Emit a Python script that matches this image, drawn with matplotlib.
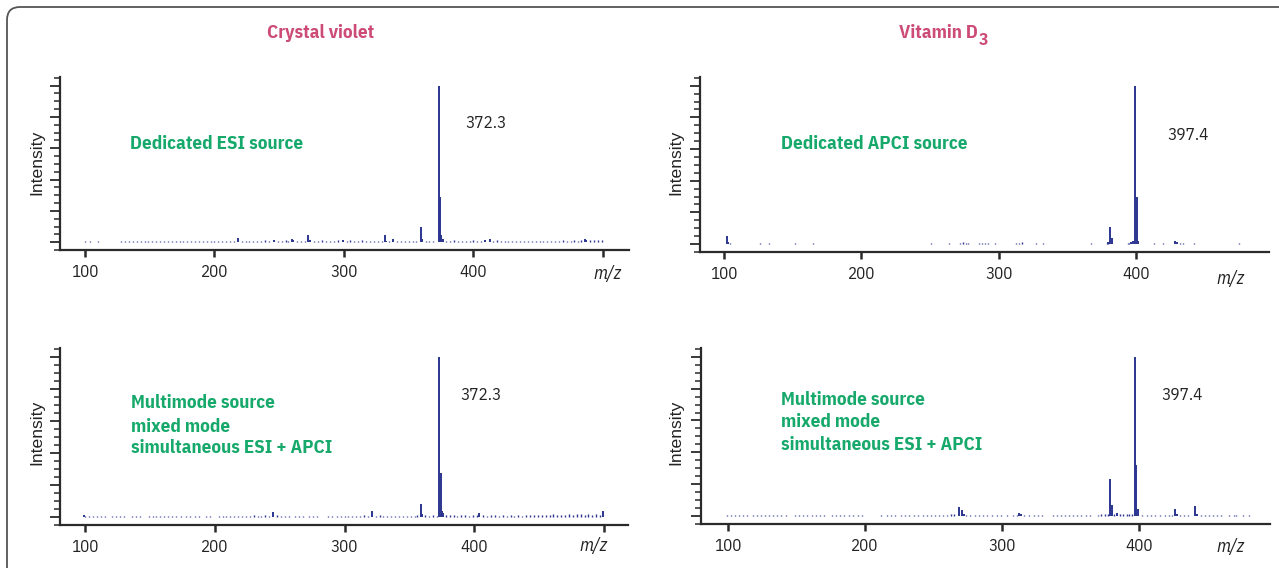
import matplotlib
matplotlib.use("Agg")
import matplotlib.pyplot as plt
from matplotlib.ticker import MultipleLocator
from matplotlib.patches import FancyBboxPatch
from matplotlib.transforms import IdentityTransform

# ---------------- data ----------------
titles = ["Crystal violet", "Vitamin D"]
title_sub = "3"
source_labels = [["Dedicated ESI source"], ["Dedicated APCI source"],
                 ["Multimode source", "mixed mode", "simultaneous ESI + APCI"],
                 ["Multimode source", "mixed mode", "simultaneous ESI + APCI"]]
peak_labels = ["372.3", "397.4", "372.3", "397.4"]
x_ticks_left = [100, 200, 300, 400, 500]
x_ticklabels_left = ["100", "200", "300", "400", ""]
x_ticks_right = [100, 200, 300, 400]
x_ticklabels_right = ["100", "200", "300", "400"]

# (m/z, relative intensity %)
tl_peaks = [(218, 2.8), (246, 1.5), (260, 2.0), (261, 1.2), (272.5, 4.7), (273.5, 1.5),
            (299, 1.3), (331.7, 4.3), (332.7, 1.0), (338, 1.8), (359.3, 9.5), (360.3, 2.2),
            (373.2, 100), (374.2, 29), (375.3, 4.5), (376.3, 2.0), (409, 1.4), (412.7, 2.0),
            (486, 2.0), (487, 1.2)]
tl_noise = [(100, .6), (102, .4), (104, .5), (107, .4), (110, .5), (113, .4), (119, .4), (121, .3),
            (128, .5), (131, .6), (134, .5), (137, .7), (140, .5), (143, .6), (146, .8), (149, .5),
            (152, .7), (155, .6), (158, .5), (161, .8), (164, .6), (167, .5), (170, .7), (173, .9),
            (176, .6), (179, .5), (182, .8), (185, .6), (188, .7), (191, .9), (194, .6), (197, .8),
            (200, .7), (203, .9), (206, .6), (209, .8), (212, 1.0), (215, .7), (221, .9), (224, .8),
            (227, 1.0), (230, .7), (233, .9), (236, .8), (239, 1.1), (242, .9), (249, 1.0), (252, .8),
            (255, 1.1), (257, .9), (264, .8), (267, 1.0), (270, .9), (277, 1.0), (280, .8), (283, 1.1),
            (286, .9), (289, 1.0), (292, .8), (295, 1.2), (302, .9), (305, 1.3), (308, 1.0), (311, .8),
            (314, 1.1), (317, .9), (320, .8), (323, 1.0), (326, .7), (329, .9), (335, .8), (341, .7),
            (344, .9), (347, .8), (350, 1.0), (353, .7), (356, .9), (363, .8), (366, 1.0), (369, .9),
            (379, 1.0), (382, .8), (385, 1.1), (388, .9), (391, .8), (394, 1.0), (397, .9), (400, 1.1),
            (403, .8), (406, 1.0), (415, .9), (418, 1.1), (421, .8), (424, .9), (427, 1.0), (430, .7),
            (433, .9), (436, .8), (439, 1.0), (442, .7), (445, .9), (448, .8), (451, 1.0), (454, .8),
            (457, .9), (460, 1.0), (463, .8), (466, .9), (469, 1.1), (472, .9), (475, 1.0), (478, 1.2),
            (481, 1.0), (483, 1.3), (490, 1.1), (493, 1.3), (496, 1.2), (499, 1.5)]

tr_peaks = [(102.0, 4.8), (103.0, 1.0), (379.6, 1.0), (381.1, 11.0), (382.2, 3.8),
            (396.4, 1.5), (397.8, 2.0), (399.3, 100), (400.7, 30), (401.8, 1.8),
            (428.4, 2.1), (429.9, 1.0)]
tr_noise = [(104, .4), (118, .3), (123, .3), (126, .4), (129, .3), (133, .4), (136, .3), (152, .4),
            (154, .3), (163, .3), (165, .4), (176, .3), (203, .3), (234.5, .3), (251, .4), (255, .3),
            (259, .3), (264, .4), (272, .5), (274, 1.0), (276, .7), (278, .5), (286, .4), (288, .5),
            (290, .8), (292, .4), (294, .3), (297, .4), (300, .3), (303, .3), (310, .3), (313, .5),
            (315, .4), (317, 1.0), (327, .4), (329, .3), (332, .5), (367, .4), (379, .4), (380, .6),
            (392, .3), (394, .5), (395, .8), (411, .3), (413, .4), (418, .3), (420, .5), (426, .3),
            (432, .4), (434, .5), (439, .3), (442, .4), (446, .3), (449, .3), (475, .4)]

bl_peaks = [(99, 1.5), (245, 3.0), (321, 3.5), (358.9, 8.2), (359.9, 2.0), (373.0, 100),
            (374.0, 27.7), (375.0, 3.5), (376.0, 2.5), (404, 2.8), (499, 3.5)]
bl_noise = [(100, .8), (103, .5), (106, .6), (109, .5), (112, .6), (115, .5), (121, .5), (124, .6),
            (127, .5), (130, .6), (136, .5), (139, .6), (142, .5), (149, .6), (152, .8), (155, .6),
            (158, .9), (161, .7), (164, .8), (167, .6), (170, .7), (174, .5), (178, .6), (181, .5),
            (185, .6), (188, .5), (193, .7), (196, .6), (203, .6), (206, .7), (209, .6), (212, .8),
            (215, .7), (218, .6), (221, .8), (224, .9), (227, .7), (230, 1.0), (233, .8), (236, .9),
            (239, 1.0), (242, .8), (248, 1.0), (251, .9), (254, .8), (257, .7), (262, .6), (265, .7),
            (268, .6), (273, .8), (276, .7), (279, .6), (287, .5), (290, .6), (294, .7), (297, .8),
            (300, .7), (303, .6), (306, .7), (309, .8), (312, .7), (315, 1.0), (318, .9), (324, .9),
            (327, 1.0), (330, .8), (333, .9), (336, .7), (339, .8), (342, .7), (345, .8), (348, .6),
            (351, .9), (354, .8), (356, 1.0), (362, 1.0), (365, .9), (368, 1.0), (371, .9), (378, 1.0),
            (381, 1.2), (384, 1.1), (387, .9), (390, 1.0), (393, 1.2), (396, .8), (399, 1.0), (402, 1.2),
            (407, 1.1), (410, .8), (413, 1.0), (416, 1.2), (419, .9), (422, 1.0), (425, .8), (428, 1.1),
            (431, .7), (434, 1.0), (437, .8), (440, 1.1), (443, 1.3), (446, 1.0), (449, 1.2), (452, 1.0),
            (455, 1.4), (458, 1.2), (461, 1.6), (464, 1.3), (467, 1.5), (470, 1.2), (473, 1.7), (476, 1.4),
            (479, 1.6), (482, 1.8), (485, 1.5), (488, 1.7), (491, 1.4), (494, 1.6), (497, 1.3)]

br_peaks = [(268.4, 5.4), (270.8, 3.5), (272, 1.2), (312.4, 2.0), (314, 1.0), (378.8, 23.5),
            (380.0, 7.0), (384, 2.0), (396.8, 100), (397.9, 32), (399.2, 4.2), (426.3, 4.6),
            (427.5, 1.0), (441, 6.2), (442.2, 1.2)]
br_noise = [(99, .5), (102, .4), (105, .6), (108, .4), (111, .5), (114, .4), (118, .5), (121, .4),
            (124, .6), (127, .5), (130, .7), (133, .4), (136, .6), (139, .5), (142, .4), (149, .4),
            (152, .6), (155, .5), (158, .8), (161, .6), (164, .5), (167, .7), (170, .4), (176, .5),
            (179, .6), (182, .4), (185, .5), (188, .4), (191, .6), (195, .4), (198, .5), (202, .3),
            (212, .4), (216, .5), (219, .4), (222, .6), (226, .4), (229, .5), (232, .6), (236, .5),
            (239, .4), (242, .6), (245, .5), (248, .7), (251, .6), (254, .8), (257, .7), (260, .9),
            (263, 1.0), (265, 1.4), (274, .8), (277, .6), (280, .5), (283, .7), (286, .5), (289, .6),
            (293, .5), (296, .6), (299, .4), (304, .5), (308, .6), (311, .8), (316, .6), (320, .5),
            (323, .4), (326, .5), (329, .4), (337, .5), (340, .6), (343, .4), (346, .5), (349, .6),
            (352, .4), (355, .5), (358, .6), (361, .5), (364, .4), (370, .8), (372, 1.0), (375, 1.2),
            (377, 1.3), (382, 1.1), (386, 1.5), (388, 1.2), (391, 1.3), (393, 1.5), (395, 1.2), (402, .5),
            (406, .6), (409, .5), (412, .4), (415, .6), (419, .5), (422, .8), (424, .9), (430, .6),
            (433, .5), (436, .6), (445, .9), (448, .7), (451, .5), (454, .6), (457, .8), (460, .4),
            (466, .5), (469, .6), (471, .4), (476, .4), (480, .4)]

# ---------------- style ----------------
BLUE = "#2c3590"
PINK = "#cc4b77"
GREEN = "#17a96b"
AXCOL = "#2a2a2a"
TXT = "#222222"
COND = ["IBM Plex Sans Condensed", "DejaVu Sans"]
REG = ["Liberation Sans", "DejaVu Sans"]
plt.rcParams["font.family"] = COND

W, H = 1279, 568
fig = plt.figure(figsize=(W / 100, H / 100), dpi=100)
renderer = fig.canvas.get_renderer()


def P(x, y):
    return x / W, 1 - y / H


def fit_size(s, target_w, **kw):
    t = fig.text(0, 0, s, fontsize=20, **kw)
    w = t.get_window_extent(renderer).width
    t.remove()
    return 20 * target_w / w


FS_GREEN = fit_size("Dedicated ESI source", 162, fontweight="bold") * 1.07
FS_TITLE = fit_size("Crystal violet", 100, fontweight="bold") * 1.07
FS_NUM = fit_size("372.3", 37) * 1.12
FS_TICK = fit_size("100", 24) * 1.15
FS_MZ = fit_size("m/z", 25, style="italic") * 1.12
FS_INT = fit_size("Intensity", 63, family=REG) * 1.03

# rounded outer frame (right and bottom sides run off the image)
frame = FancyBboxPatch((7, -60), 1400, H - 7 + 60, boxstyle="round,pad=0,rounding_size=13",
                       transform=IdentityTransform(), fill=False, edgecolor="#555555", lw=1.3)
fig.add_artist(frame)

# layout: (left, right, top, bottom) in px, xlim, ticks, labels, text positions
panels = [
    dict(box=(60, 629, 77, 250), xlim=(80.7, 520.1), peaks=tl_peaks, noise=tl_noise,
         ticks=x_ticks_left, tl=x_ticklabels_left, src=(130, [149]), num=(465, 128),
         mz=(593, 279), ylab=(37, 162)),
    dict(box=(700, 1269, 77, 252), xlim=(82.5, 496.9), peaks=tr_peaks, noise=tr_noise,
         ticks=x_ticks_right, tl=x_ticklabels_right, src=(781, [149]), num=(1167, 140),
         mz=(1216, 284), ylab=(676, 162)),
    dict(box=(60, 628, 348, 525), xlim=(80.7, 518.5), peaks=bl_peaks, noise=bl_noise,
         ticks=x_ticks_left, tl=x_ticklabels_left, src=(131, [408, 431.5, 453.3]), num=(460, 400),
         mz=(579, 551), ylab=(37, 432)),
    dict(box=(701, 1270, 348, 524), xlim=(80.3, 495.6), peaks=br_peaks, noise=br_noise,
         ticks=x_ticks_right, tl=x_ticklabels_right, src=(781, [405, 427, 450]), num=(1161, 400),
         mz=(1216, 552), ylab=(676, 432)),
]

for i, p in enumerate(panels):
    l, r, t, b = p["box"]
    ax = fig.add_axes([l / W, 1 - b / H, (r - l) / W, (b - t) / H])
    ax.patch.set_alpha(0)
    nmz, nint = zip(*p["noise"])
    pmz, pint = zip(*p["peaks"])
    ax.vlines(nmz, 0, nint, color=BLUE, lw=1.0)
    ax.vlines(pmz, 0, pint, color=BLUE, lw=1.4)
    ax.set_xlim(*p["xlim"])
    ax.set_ylim(-5, 105.5)
    for s in ("top", "right"):
        ax.spines[s].set_visible(False)
    for s in ("left", "bottom"):
        ax.spines[s].set_color(AXCOL)
        ax.spines[s].set_linewidth(1.6)
    ax.set_yticks([0, 20, 40, 60, 80, 100])
    ax.set_yticklabels([])
    ax.yaxis.set_minor_locator(MultipleLocator(5))
    ax.tick_params(axis="y", which="major", length=7, width=1.3, color=AXCOL, direction="out")
    ax.tick_params(axis="y", which="minor", length=4, width=1.1, color=AXCOL, direction="out")
    ax.set_xticks(p["ticks"])
    ax.set_xticklabels(p["tl"])
    ax.tick_params(axis="x", length=5, width=1.8, color=AXCOL, pad=5, labelsize=FS_TICK,
                   labelcolor=TXT)

    sx, sys_ = p["src"]
    for line, yb in zip(source_labels[i], sys_):
        fig.text(*P(sx, yb), line, color=GREEN, fontsize=FS_GREEN, fontweight="bold",
                 ha="left", va="baseline")
    fig.text(*P(*p["num"]), peak_labels[i], color=TXT, fontsize=FS_NUM, ha="left",
             va="baseline")
    fig.text(*P(*p["mz"]), "m/z", color=TXT, fontsize=FS_MZ, style="italic", ha="left",
             va="baseline")
    fig.text(*P(*p["ylab"]), "Intensity", color=TXT, fontsize=FS_INT, family=REG,
             rotation=90, ha="center", va="center")

# column titles
fig.text(*P(321, 38), titles[0], color=PINK, fontsize=FS_TITLE, fontweight="bold",
         ha="center", va="baseline")
vt = fig.text(*P(899, 38), titles[1], color=PINK, fontsize=FS_TITLE, fontweight="bold",
              ha="left", va="baseline")
x_end = vt.get_window_extent(renderer).x1
fig.text((x_end + 1) / W, 1 - 45 / H, title_sub, color=PINK, fontsize=FS_TITLE * 0.92,
         fontweight="bold", ha="left", va="baseline")

fig.savefig("out.png", dpi=100)
